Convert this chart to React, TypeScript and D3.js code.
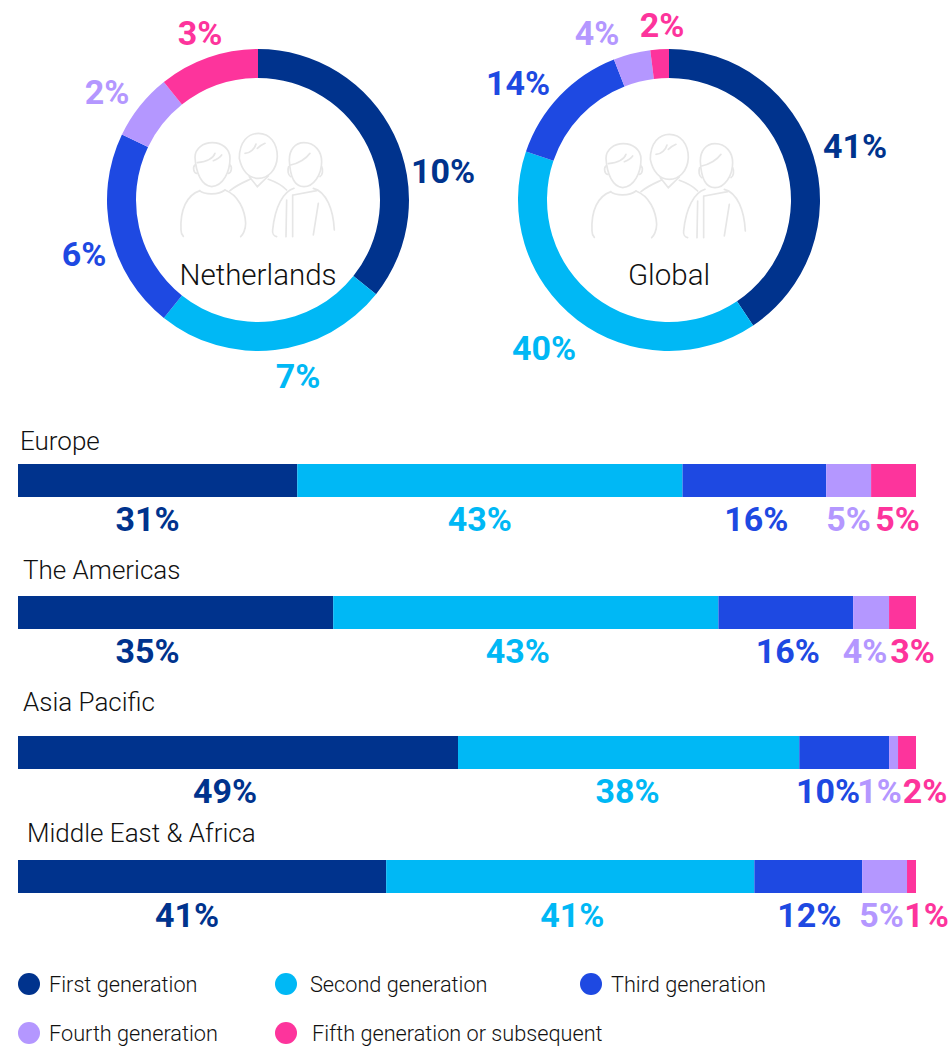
import React from "react";
import * as d3 from "d3";

// chart data
const generations = ["First generation", "Second generation", "Third generation", "Fourth generation", "Fifth generation or subsequent"];
const colors = ["#00338D", "#00B8F5", "#1E49E2", "#B497FF", "#FD349C"];

const donutNames = ["Netherlands", "Global"];
const netherlandsArcs = [10, 7, 6, 2, 3];
const netherlandsLabels = ["10%", "7%", "6%", "2%", "3%"];
const globalArcs = [41, 40, 14, 4, 2];
const globalLabels = ["41%", "40%", "14%", "4%", "2%"];

const regions = ["Europe", "The Americas", "Asia Pacific", "Middle East & Africa"];
const europeBars = [31.1, 42.9, 16, 5, 5];
const americasBars = [35.1, 42.9, 15, 4, 3];
const asiaBars = [49, 38, 10, 1, 2];
const meaBars = [41, 41, 12, 5, 1];
const europeLabels = ["31%", "43%", "16%", "5%", "5%"];
const americasLabels = ["35%", "43%", "16%", "4%", "3%"];
const asiaLabels = ["49%", "38%", "10%", "1%", "2%"];
const meaLabels = ["41%", "41%", "12%", "5%", "1%"];

// layout
const W = 951, H = 1046;
const donutCx = [258, 669], donutCy = 200, outerR = 151, innerR = 122;
const donutLabelPos = [
  [[443, 171], [298, 376], [84, 254], [107, 92], [200, 33]],
  [[855, 146], [544, 348], [518, 83], [597, 33], [662, 25]],
];
const donutNameX = [258, 669];
const barTops = [464, 596, 736, 860], barH = 33;
const regionPos = [[20, 449.5], [23, 578.5], [23, 710.5], [27, 841.5]];
const labelNudge = [
  [-10, -10, 2, 0, 4],
  [-28, -8, 2, -6, 10],
  [-13, -1, -16, -14, 18],
  [-15, 2, 1, -3, 15],
];
const legendPos = [[29, 984, 49], [286, 984, 310], [591, 984, 611], [29, 1033, 49], [286, 1033, 312]];

const font = "Roboto, sans-serif";
const x = d3.scaleLinear().domain([0, 100]).range([18, 916]);
const pie = d3.pie<number>().sort(null).value((d) => d);
const arc = d3.arc<d3.PieArcDatum<number>>().innerRadius(innerR).outerRadius(outerR);

// three outline figures inside the donuts, drawn at 3x
const peoplePaths = [
  "M75,112 C75,85 100,68 127,68 C155,68 180,85 180,115 C180,155 160,197 125,200 C95,197 78,160 75,112",
  "M75,135 C68,140 70,158 80,160 M180,135 C187,140 185,158 175,160",
  "M82,128 C110,125 130,115 135,100 M130,122 C140,118 150,112 155,105",
  "M88,212 C105,225 145,225 165,210 M90,212 C50,225 30,270 33,330 C33,338 36,345 40,349",
  "M165,210 C205,225 225,270 227,310 C227,330 218,345 212,350",
  "M208,115 C208,65 235,40 265,40 C300,40 322,70 322,110 C320,150 295,175 265,175 C235,175 215,150 208,115",
  "M225,100 C240,100 255,85 258,72 M262,85 C270,78 280,72 285,70",
  "M238,170 L262,200 L295,168 M180,212 C200,195 225,185 240,178 M295,178 C315,185 335,195 350,210",
  "M358,120 C358,90 375,68 402,68 C435,68 455,95 455,125 C455,165 430,200 402,200 C375,200 360,170 358,120",
  "M362,135 C385,130 410,115 420,100 M356,140 C352,150 354,165 362,170 M455,140 C460,150 458,165 450,170",
  "M372,205 C340,215 315,260 308,330 C306,340 312,348 320,350 M350,240 L348,350 M368,225 L368,350",
  "M370,225 L440,212 M430,205 C470,215 490,270 493,330 M445,250 L430,345",
];

function People({ dx, dy }: { dx: number; dy: number }) {
  return (
    <g transform={`translate(${dx},${dy}) scale(0.3333)`} fill="none" stroke="#e6e6e6" strokeWidth={5} strokeLinecap="round">
      {peoplePaths.map((d, i) => (
        <path key={i} d={d} />
      ))}
    </g>
  );
}

function Donut({ idx, values, labels }: { idx: number; values: number[]; labels: string[] }) {
  return (
    <g>
      <g transform={`translate(${donutCx[idx]},${donutCy})`}>
        {pie(values).map((d, i) => (
          <path key={i} d={arc(d) as string} fill={colors[i]} />
        ))}
      </g>
      <People dx={170 + (idx ? 411 : 0)} dy={120 + (idx ? 1 : 0)} />
      <text x={donutNameX[idx]} y={285} textAnchor="middle" fontFamily={font} fontWeight={300} fontSize={29.5} fill="#111">
        {donutNames[idx]}
      </text>
      {labels.map((t, i) => (
        <text key={i} x={donutLabelPos[idx][i][0]} y={donutLabelPos[idx][i][1] + 12} textAnchor="middle" fontFamily={font} fontWeight={700} fontSize={34} fill={colors[i]}>
          {t}
        </text>
      ))}
    </g>
  );
}

function BarRow({ row, values, labels }: { row: number; values: number[]; labels: string[] }) {
  const cum = d3.cumsum(values);
  return (
    <g>
      <text x={regionPos[row][0]} y={regionPos[row][1]} fontFamily={font} fontWeight={300} fontSize={26} fill="#111">
        {regions[row]}
      </text>
      {values.map((v, i) => (
        <rect key={i} x={x(cum[i] - v)} y={barTops[row]} width={x(cum[i]) - x(cum[i] - v)} height={barH} fill={colors[i]} />
      ))}
      {labels.map((t, i) => (
        <text key={i} x={x(cum[i] - values[i] / 2) + labelNudge[row][i]} y={barTops[row] + barH + 33.5} textAnchor="middle" fontFamily={font} fontWeight={700} fontSize={34} fill={colors[i]}>
          {t}
        </text>
      ))}
    </g>
  );
}

export default function App() {
  return (
    <svg width={W} height={H} viewBox={`0 0 ${W} ${H}`} style={{ position: "absolute", left: 0, top: 0, background: "#fff" }}>
      <Donut idx={0} values={netherlandsArcs} labels={netherlandsLabels} />
      <Donut idx={1} values={globalArcs} labels={globalLabels} />
      <BarRow row={0} values={europeBars} labels={europeLabels} />
      <BarRow row={1} values={americasBars} labels={americasLabels} />
      <BarRow row={2} values={asiaBars} labels={asiaLabels} />
      <BarRow row={3} values={meaBars} labels={meaLabels} />
      {generations.map((g, i) => (
        <g key={g}>
          <circle cx={legendPos[i][0]} cy={legendPos[i][1]} r={11} fill={colors[i]} />
          <text x={legendPos[i][2]} y={legendPos[i][1] + 7.5} fontFamily={font} fontWeight={300} fontSize={21.7} fill="#111">
            {g}
          </text>
        </g>
      ))}
    </svg>
  );
}
